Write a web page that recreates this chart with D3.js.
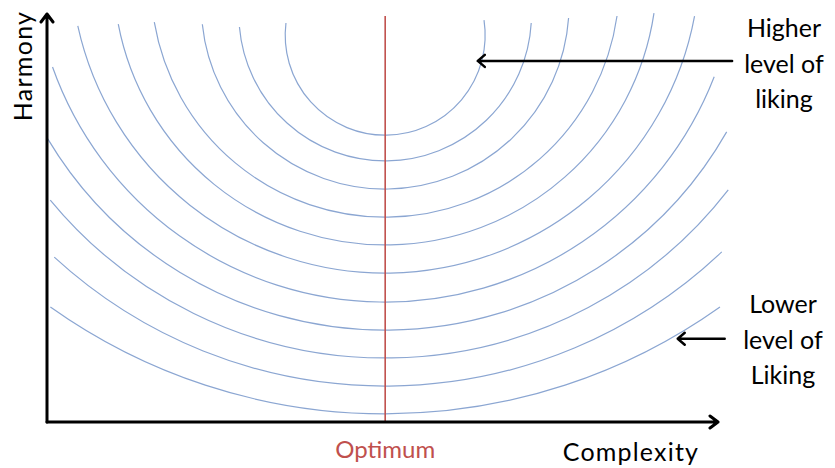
<!DOCTYPE html>
<html>
<head>
<meta charset="utf-8">
<script src="https://cdn.jsdelivr.net/npm/d3@7"></script>
<style>
  html, body { margin: 0; padding: 0; background: #fff; }
  svg { display: block; }
  text { font-family: Lato, "Open Sans", sans-serif; }
</style>
</head>
<body>
<svg id="chart" width="835" height="468"></svg>
<script>
// ---- data (complexity / harmony units, 0..10 on each axis) ----
const optimum = 5.04;                         // complexity of the optimum
// harmony at the optimum (bottom of each iso-liking curve), highest liking first
const bottomHarmony = [7.03, 6.40, 5.71, 5.02, 4.34, 3.65, 2.94, 2.25, 1.57, 0.88, 0.20];
// curve radius, in complexity units
const curveRadius   = [1.49, 2.18, 2.74, 3.49, 4.05, 4.69, 5.26, 5.86, 6.47, 7.29, 8.61];
// harmony at which each curve ends on the left and on the right
const leftEndHarmony  = [9.78, 9.68, 9.75, 9.80, 9.75, 9.71, 8.70, 6.94, 5.44, 4.04, 2.82];
const rightEndHarmony = [9.85, 9.78, 9.90, 9.95, 10.02, 9.95, 8.46, 7.11, 5.69, 4.17, 2.82];
const axisTitles = ["Complexity", "Harmony"];
const optimumLabel = "Optimum";
const higherLabel = ["Higher", "level of", "liking"];
const lowerLabel = ["Lower", "level of", "Liking"];
const higherArrowHarmony = 8.85, lowerArrowHarmony = 2.04;
const higherArrow = [10.21, 6.42];   // complexity from -> to
const lowerArrow  = [10.10, 9.40];

// ---- layout ----
const svg = d3.select("#chart");
const x = d3.scaleLinear().domain([0, 10]).range([47, 718]);
const y = d3.scaleLinear().domain([0, 10]).range([422, 14]);
const pxPerX = x(1) - x(0);

// iso-liking curves
const arcs = bottomHarmony.map((b, i) => ({
  b, r: curveRadius[i], l: leftEndHarmony[i], rt: rightEndHarmony[i]
}));
svg.append("g").selectAll("path").data(arcs).join("path")
  .attr("fill", "none")
  .attr("stroke", "#8ba6d2")
  .attr("stroke-width", 1.2)
  .attr("d", d => {
    const R = d.r * pxPerX;
    const cx = x(optimum);
    const cy = y(d.b) - R;
    const aR = Math.asin(Math.max(-1, Math.min(1, (y(d.rt) - cy) / R)));
    const aL = Math.PI - Math.asin(Math.max(-1, Math.min(1, (y(d.l) - cy) / R)));
    const p = d3.path();
    p.arc(cx, cy, R, aR, aL, false);
    return p.toString();
  });

// optimum line
svg.append("line")
  .attr("x1", x(optimum)).attr("x2", x(optimum))
  .attr("y1", y(0)).attr("y2", y(10) + 2)
  .attr("stroke", "#c0504d").attr("stroke-width", 1.6);

// axes with open arrowheads
const axes = svg.append("g").attr("stroke", "#000").attr("stroke-width", 3)
  .attr("fill", "none").attr("stroke-linecap", "round").attr("stroke-linejoin", "round");
axes.append("path").attr("d", `M${x(0)},${y(0)}L${x(0)},${y(10)}M${x(0)-6},${y(10)+8}L${x(0)},${y(10)}L${x(0)+6},${y(10)+8}`);
axes.append("path").attr("d", `M${x(0)},${y(0)}L${x(10)},${y(0)}M${x(10)-8},${y(0)-6}L${x(10)},${y(0)}L${x(10)-8},${y(0)+6}`);

// pointer arrows
function arrow(from, to, h) {
  const yy = y(h);
  axes.append("path").attr("stroke-width", 2.5)
    .attr("d", `M${x(from)},${yy}L${x(to)},${yy}M${x(to)+7},${yy-6}L${x(to)},${yy}L${x(to)+7},${yy+6}`);
}
arrow(higherArrow[0], higherArrow[1], higherArrowHarmony);
arrow(lowerArrow[0], lowerArrow[1], lowerArrowHarmony);

// texts
svg.append("text").text(axisTitles[0])
  .attr("x", 631).attr("y", 461).attr("text-anchor", "middle")
  .attr("font-size", 25).attr("letter-spacing", 1.2).attr("fill", "#000");
svg.append("text").text(axisTitles[1])
  .attr("transform", "translate(32,66) rotate(-90)").attr("text-anchor", "middle")
  .attr("font-size", 25).attr("letter-spacing", 1.3).attr("fill", "#000");
svg.append("text").text(optimumLabel)
  .attr("x", x(optimum)).attr("y", 458).attr("text-anchor", "middle")
  .attr("font-size", 24).attr("fill", "#c0504d");

function block(lines, cx, firstBaseline) {
  const t = svg.append("text").attr("text-anchor", "middle").attr("font-size", 25).attr("fill", "#000");
  lines.forEach((s, i) => t.append("tspan").attr("x", cx).attr("y", firstBaseline + i * 35.5).text(s));
}
block(higherLabel, 784, 37);
block(lowerLabel, 783, 313);
</script>
</body>
</html>
